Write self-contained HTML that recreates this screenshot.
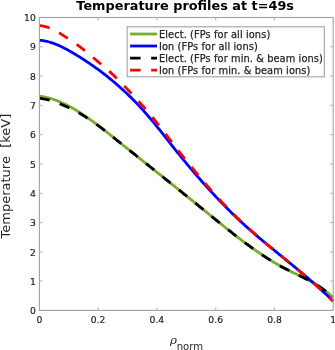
<!DOCTYPE html>
<html><head><meta charset="utf-8"><title>Temperature profiles</title>
<style>
html,body{margin:0;padding:0;background:#fff;}
body{width:335px;height:350px;overflow:hidden;}
svg{display:block;font-family:"DejaVu Sans","Liberation Sans",sans-serif;}
</style></head><body>
<svg width="335" height="350" viewBox="0 0 335 350">
<rect width="335" height="350" fill="#fff"/>
<g fill="none" stroke-width="2.8" stroke-linejoin="round">
<path d="M39.40,96.23 L40.38,96.35 L41.37,96.48 L42.35,96.63 L43.33,96.79 L44.31,96.98 L45.30,97.17 L46.28,97.39 L47.26,97.62 L48.24,97.86 L49.23,98.12 L50.21,98.40 L51.19,98.69 L52.17,98.99 L53.16,99.31 L54.14,99.64 L55.12,99.98 L56.10,100.34 L57.09,100.72 L58.07,101.10 L59.05,101.50 L60.03,101.91 L61.02,102.33 L62.00,102.77 L62.98,103.22 L63.97,103.68 L64.95,104.15 L65.93,104.63 L66.91,105.13 L67.90,105.63 L68.88,106.15 L69.86,106.68 L70.84,107.21 L71.83,107.76 L72.81,108.32 L73.79,108.89 L74.77,109.46 L75.76,110.05 L76.74,110.64 L77.72,111.25 L78.70,111.86 L79.69,112.48 L80.67,113.11 L81.65,113.75 L82.63,114.40 L83.62,115.05 L84.60,115.71 L85.58,116.38 L86.57,117.05 L87.55,117.73 L88.53,118.42 L89.51,119.12 L90.50,119.82 L91.48,120.52 L92.46,121.24 L93.44,121.95 L94.43,122.68 L95.41,123.41 L96.39,124.14 L97.37,124.88 L98.36,125.62 L99.34,126.37 L100.32,127.12 L101.30,127.87 L102.29,128.63 L103.27,129.39 L104.25,130.16 L105.23,130.92 L106.22,131.70 L107.20,132.47 L108.18,133.24 L109.17,134.02 L110.15,134.80 L111.13,135.58 L112.11,136.36 L113.10,137.15 L114.08,137.93 L115.06,138.72 L116.04,139.51 L117.03,140.29 L118.01,141.08 L118.99,141.87 L119.97,142.65 L120.96,143.44 L121.94,144.23 L122.92,145.02 L123.90,145.80 L124.89,146.59 L125.87,147.37 L126.85,148.16 L127.83,148.95 L128.82,149.73 L129.80,150.52 L130.78,151.30 L131.77,152.09 L132.75,152.88 L133.73,153.66 L134.71,154.45 L135.70,155.23 L136.68,156.02 L137.66,156.80 L138.64,157.59 L139.63,158.37 L140.61,159.16 L141.59,159.94 L142.57,160.73 L143.56,161.51 L144.54,162.30 L145.52,163.08 L146.50,163.87 L147.49,164.65 L148.47,165.44 L149.45,166.23 L150.43,167.01 L151.42,167.80 L152.40,168.58 L153.38,169.37 L154.37,170.15 L155.35,170.94 L156.33,171.73 L157.31,172.51 L158.30,173.30 L159.28,174.09 L160.26,174.87 L161.24,175.66 L162.23,176.45 L163.21,177.23 L164.19,178.02 L165.17,178.81 L166.16,179.59 L167.14,180.38 L168.12,181.17 L169.10,181.96 L170.09,182.75 L171.07,183.54 L172.05,184.32 L173.03,185.11 L174.02,185.90 L175.00,186.69 L175.98,187.48 L176.97,188.27 L177.95,189.06 L178.93,189.85 L179.91,190.64 L180.90,191.44 L181.88,192.23 L182.86,193.02 L183.84,193.81 L184.83,194.60 L185.81,195.40 L186.79,196.19 L187.77,196.98 L188.76,197.78 L189.74,198.57 L190.72,199.37 L191.70,200.16 L192.69,200.96 L193.67,201.75 L194.65,202.55 L195.63,203.35 L196.62,204.14 L197.60,204.94 L198.58,205.74 L199.57,206.54 L200.55,207.34 L201.53,208.14 L202.51,208.94 L203.50,209.74 L204.48,210.54 L205.46,211.34 L206.44,212.14 L207.43,212.94 L208.41,213.74 L209.39,214.54 L210.37,215.34 L211.36,216.14 L212.34,216.95 L213.32,217.75 L214.30,218.54 L215.29,219.34 L216.27,220.14 L217.25,220.94 L218.23,221.74 L219.22,222.53 L220.20,223.33 L221.18,224.12 L222.17,224.91 L223.15,225.70 L224.13,226.49 L225.11,227.28 L226.10,228.06 L227.08,228.85 L228.06,229.63 L229.04,230.41 L230.03,231.19 L231.01,231.96 L231.99,232.74 L232.97,233.51 L233.96,234.28 L234.94,235.04 L235.92,235.81 L236.90,236.57 L237.89,237.33 L238.87,238.08 L239.85,238.83 L240.83,239.58 L241.82,240.33 L242.80,241.07 L243.78,241.81 L244.77,242.55 L245.75,243.28 L246.73,244.01 L247.71,244.73 L248.70,245.45 L249.68,246.17 L250.66,246.88 L251.64,247.59 L252.63,248.30 L253.61,249.00 L254.59,249.69 L255.57,250.38 L256.56,251.07 L257.54,251.75 L258.52,252.43 L259.50,253.10 L260.49,253.77 L261.47,254.43 L262.45,255.09 L263.43,255.74 L264.42,256.38 L265.40,257.02 L266.38,257.66 L267.37,258.29 L268.35,258.91 L269.33,259.53 L270.31,260.14 L271.30,260.75 L272.28,261.35 L273.26,261.94 L274.24,262.53 L275.23,263.11 L276.21,263.68 L277.19,264.25 L278.17,264.81 L279.16,265.37 L280.14,265.91 L281.12,266.45 L282.10,266.99 L283.09,267.51 L284.07,268.03 L285.05,268.54 L286.03,269.05 L287.02,269.55 L288.00,270.04 L288.98,270.53 L289.97,271.01 L290.95,271.49 L291.93,271.97 L292.91,272.44 L293.90,272.92 L294.88,273.39 L295.86,273.86 L296.84,274.33 L297.83,274.81 L298.81,275.28 L299.79,275.76 L300.77,276.23 L301.76,276.72 L302.74,277.20 L303.72,277.69 L304.70,278.19 L305.69,278.69 L306.67,279.20 L307.65,279.71 L308.63,280.23 L309.62,280.76 L310.60,281.30 L311.58,281.85 L312.57,282.41 L313.55,282.98 L314.53,283.56 L315.51,284.15 L316.50,284.76 L317.48,285.37 L318.46,286.01 L319.44,286.65 L320.43,287.31 L321.41,287.99 L322.39,288.68 L323.37,289.39 L324.36,290.12 L325.34,290.87 L326.32,291.63 L327.30,292.42 L328.29,293.22 L329.27,294.05 L330.25,294.89 L331.23,295.76 L332.22,296.65 L333.20,297.56" stroke="#77ac30"/>
<path d="M39.40,40.20 L40.38,40.28 L41.37,40.39 L42.35,40.52 L43.33,40.67 L44.31,40.84 L45.30,41.04 L46.28,41.25 L47.26,41.48 L48.24,41.74 L49.23,42.01 L50.21,42.30 L51.19,42.61 L52.17,42.93 L53.16,43.27 L54.14,43.63 L55.12,44.01 L56.10,44.40 L57.09,44.80 L58.07,45.22 L59.05,45.65 L60.03,46.10 L61.02,46.56 L62.00,47.03 L62.98,47.51 L63.97,48.00 L64.95,48.51 L65.93,49.02 L66.91,49.55 L67.90,50.08 L68.88,50.62 L69.86,51.18 L70.84,51.73 L71.83,52.30 L72.81,52.87 L73.79,53.45 L74.77,54.04 L75.76,54.63 L76.74,55.22 L77.72,55.82 L78.70,56.43 L79.69,57.04 L80.67,57.66 L81.65,58.28 L82.63,58.91 L83.62,59.54 L84.60,60.18 L85.58,60.82 L86.57,61.47 L87.55,62.12 L88.53,62.78 L89.51,63.45 L90.50,64.12 L91.48,64.80 L92.46,65.48 L93.44,66.17 L94.43,66.86 L95.41,67.56 L96.39,68.27 L97.37,68.99 L98.36,69.70 L99.34,70.43 L100.32,71.16 L101.30,71.90 L102.29,72.65 L103.27,73.40 L104.25,74.15 L105.23,74.92 L106.22,75.69 L107.20,76.47 L108.18,77.25 L109.17,78.04 L110.15,78.84 L111.13,79.64 L112.11,80.46 L113.10,81.28 L114.08,82.10 L115.06,82.93 L116.04,83.77 L117.03,84.62 L118.01,85.48 L118.99,86.34 L119.97,87.21 L120.96,88.09 L121.94,88.98 L122.92,89.87 L123.90,90.77 L124.89,91.68 L125.87,92.60 L126.85,93.53 L127.83,94.47 L128.82,95.42 L129.80,96.37 L130.78,97.34 L131.77,98.31 L132.75,99.29 L133.73,100.28 L134.71,101.28 L135.70,102.30 L136.68,103.32 L137.66,104.35 L138.64,105.39 L139.63,106.44 L140.61,107.50 L141.59,108.57 L142.57,109.65 L143.56,110.75 L144.54,111.85 L145.52,112.96 L146.50,114.09 L147.49,115.22 L148.47,116.37 L149.45,117.52 L150.43,118.68 L151.42,119.85 L152.40,121.03 L153.38,122.22 L154.37,123.41 L155.35,124.61 L156.33,125.82 L157.31,127.03 L158.30,128.25 L159.28,129.47 L160.26,130.70 L161.24,131.93 L162.23,133.16 L163.21,134.40 L164.19,135.64 L165.17,136.88 L166.16,138.12 L167.14,139.37 L168.12,140.61 L169.10,141.86 L170.09,143.10 L171.07,144.35 L172.05,145.59 L173.03,146.83 L174.02,148.07 L175.00,149.31 L175.98,150.55 L176.97,151.78 L177.95,153.01 L178.93,154.23 L179.91,155.45 L180.90,156.67 L181.88,157.88 L182.86,159.08 L183.84,160.28 L184.83,161.48 L185.81,162.67 L186.79,163.85 L187.77,165.03 L188.76,166.20 L189.74,167.37 L190.72,168.53 L191.70,169.69 L192.69,170.84 L193.67,171.99 L194.65,173.13 L195.63,174.27 L196.62,175.40 L197.60,176.53 L198.58,177.65 L199.57,178.77 L200.55,179.89 L201.53,181.00 L202.51,182.10 L203.50,183.20 L204.48,184.30 L205.46,185.39 L206.44,186.48 L207.43,187.56 L208.41,188.64 L209.39,189.71 L210.37,190.78 L211.36,191.84 L212.34,192.90 L213.32,193.96 L214.30,195.01 L215.29,196.06 L216.27,197.10 L217.25,198.14 L218.23,199.18 L219.22,200.21 L220.20,201.23 L221.18,202.26 L222.17,203.27 L223.15,204.29 L224.13,205.29 L225.11,206.30 L226.10,207.29 L227.08,208.29 L228.06,209.27 L229.04,210.26 L230.03,211.23 L231.01,212.21 L231.99,213.17 L232.97,214.13 L233.96,215.09 L234.94,216.04 L235.92,216.98 L236.90,217.92 L237.89,218.86 L238.87,219.78 L239.85,220.70 L240.83,221.62 L241.82,222.53 L242.80,223.43 L243.78,224.33 L244.77,225.22 L245.75,226.11 L246.73,227.00 L247.71,227.87 L248.70,228.75 L249.68,229.62 L250.66,230.48 L251.64,231.34 L252.63,232.20 L253.61,233.05 L254.59,233.90 L255.57,234.75 L256.56,235.59 L257.54,236.43 L258.52,237.26 L259.50,238.09 L260.49,238.92 L261.47,239.75 L262.45,240.57 L263.43,241.39 L264.42,242.21 L265.40,243.03 L266.38,243.84 L267.37,244.65 L268.35,245.46 L269.33,246.27 L270.31,247.08 L271.30,247.88 L272.28,248.69 L273.26,249.49 L274.24,250.29 L275.23,251.09 L276.21,251.89 L277.19,252.69 L278.17,253.49 L279.16,254.29 L280.14,255.09 L281.12,255.89 L282.10,256.69 L283.09,257.49 L284.07,258.29 L285.05,259.09 L286.03,259.89 L287.02,260.69 L288.00,261.50 L288.98,262.30 L289.97,263.11 L290.95,263.91 L291.93,264.72 L292.91,265.53 L293.90,266.34 L294.88,267.15 L295.86,267.96 L296.84,268.78 L297.83,269.60 L298.81,270.42 L299.79,271.24 L300.77,272.06 L301.76,272.89 L302.74,273.72 L303.72,274.55 L304.70,275.38 L305.69,276.22 L306.67,277.05 L307.65,277.90 L308.63,278.74 L309.62,279.59 L310.60,280.44 L311.58,281.30 L312.57,282.15 L313.55,283.02 L314.53,283.88 L315.51,284.75 L316.50,285.62 L317.48,286.50 L318.46,287.38 L319.44,288.26 L320.43,289.15 L321.41,290.05 L322.39,290.94 L323.37,291.85 L324.36,292.75 L325.34,293.67 L326.32,294.58 L327.30,295.50 L328.29,296.43 L329.27,297.36 L330.25,298.30 L331.23,299.24 L332.22,300.19 L333.20,301.15" stroke="#0000ff"/>
<path d="M39.40,98.33 L40.38,98.43 L41.37,98.55 L42.35,98.68 L43.33,98.84 L44.31,99.01 L45.30,99.19 L46.28,99.40 L47.26,99.62 L48.24,99.86 L49.23,100.12 L50.21,100.40 L51.19,100.69 L52.17,100.99 L53.16,101.31 L54.14,101.64 L55.12,101.98 L56.10,102.34 L57.09,102.72 L58.07,103.10 L59.05,103.50 L60.03,103.90 L61.02,104.31 L62.00,104.72 L62.98,105.13 L63.97,105.55 L64.95,105.97 L65.93,106.40 L66.91,106.84 L67.90,107.29 L68.88,107.75 L69.86,108.23 L70.84,108.71 L71.83,109.21 L72.81,109.70 L73.79,110.20 L74.77,110.71 L75.76,111.23 L76.74,111.75 L77.72,112.28 L78.70,112.82 L79.69,113.37 L80.67,113.94 L81.65,114.51 L82.63,115.10 L83.62,115.71 L84.60,116.32 L85.58,116.94 L86.57,117.57 L87.55,118.20 L88.53,118.84 L89.51,119.50 L90.50,120.16 L91.48,120.83 L92.46,121.51 L93.44,122.19 L94.43,122.89 L95.41,123.59 L96.39,124.30 L97.37,125.01 L98.36,125.73 L99.34,126.46 L100.32,127.18 L101.30,127.92 L102.29,128.66 L103.27,129.41 L104.25,130.16 L105.23,130.93 L106.22,131.70 L107.20,132.47 L108.18,133.24 L109.17,134.02 L110.15,134.80 L111.13,135.58 L112.11,136.36 L113.10,137.15 L114.08,137.93 L115.06,138.72 L116.04,139.51 L117.03,140.29 L118.01,141.08 L118.99,141.87 L119.97,142.65 L120.96,143.44 L121.94,144.23 L122.92,145.02 L123.90,145.80 L124.89,146.59 L125.87,147.37 L126.85,148.16 L127.83,148.95 L128.82,149.73 L129.80,150.52 L130.78,151.30 L131.77,152.09 L132.75,152.88 L133.73,153.66 L134.71,154.45 L135.70,155.23 L136.68,156.02 L137.66,156.80 L138.64,157.59 L139.63,158.37 L140.61,159.16 L141.59,159.94 L142.57,160.73 L143.56,161.51 L144.54,162.30 L145.52,163.08 L146.50,163.87 L147.49,164.65 L148.47,165.44 L149.45,166.23 L150.43,167.01 L151.42,167.80 L152.40,168.58 L153.38,169.37 L154.37,170.15 L155.35,170.94 L156.33,171.73 L157.31,172.51 L158.30,173.30 L159.28,174.09 L160.26,174.87 L161.24,175.66 L162.23,176.45 L163.21,177.23 L164.19,178.02 L165.17,178.81 L166.16,179.59 L167.14,180.38 L168.12,181.17 L169.10,181.96 L170.09,182.75 L171.07,183.54 L172.05,184.32 L173.03,185.11 L174.02,185.90 L175.00,186.69 L175.98,187.48 L176.97,188.27 L177.95,189.06 L178.93,189.85 L179.91,190.64 L180.90,191.44 L181.88,192.23 L182.86,193.02 L183.84,193.81 L184.83,194.60 L185.81,195.40 L186.79,196.19 L187.77,196.98 L188.76,197.78 L189.74,198.57 L190.72,199.37 L191.70,200.16 L192.69,200.96 L193.67,201.75 L194.65,202.55 L195.63,203.35 L196.62,204.14 L197.60,204.94 L198.58,205.74 L199.57,206.54 L200.55,207.34 L201.53,208.14 L202.51,208.94 L203.50,209.74 L204.48,210.54 L205.46,211.34 L206.44,212.14 L207.43,212.94 L208.41,213.74 L209.39,214.54 L210.37,215.34 L211.36,216.14 L212.34,216.95 L213.32,217.75 L214.30,218.54 L215.29,219.34 L216.27,220.14 L217.25,220.94 L218.23,221.74 L219.22,222.53 L220.20,223.33 L221.18,224.12 L222.17,224.91 L223.15,225.70 L224.13,226.49 L225.11,227.28 L226.10,228.06 L227.08,228.85 L228.06,229.63 L229.04,230.41 L230.03,231.19 L231.01,231.96 L231.99,232.74 L232.97,233.51 L233.96,234.28 L234.94,235.04 L235.92,235.81 L236.90,236.57 L237.89,237.33 L238.87,238.08 L239.85,238.83 L240.83,239.58 L241.82,240.33 L242.80,241.07 L243.78,241.81 L244.77,242.55 L245.75,243.28 L246.73,244.01 L247.71,244.73 L248.70,245.45 L249.68,246.17 L250.66,246.88 L251.64,247.59 L252.63,248.30 L253.61,249.00 L254.59,249.69 L255.57,250.38 L256.56,251.07 L257.54,251.75 L258.52,252.43 L259.50,253.10 L260.49,253.77 L261.47,254.43 L262.45,255.09 L263.43,255.74 L264.42,256.38 L265.40,257.02 L266.38,257.66 L267.37,258.29 L268.35,258.91 L269.33,259.53 L270.31,260.14 L271.30,260.75 L272.28,261.35 L273.26,261.94 L274.24,262.53 L275.23,263.11 L276.21,263.68 L277.19,264.25 L278.17,264.81 L279.16,265.37 L280.14,265.91 L281.12,266.45 L282.10,266.99 L283.09,267.51 L284.07,268.03 L285.05,268.54 L286.03,269.05 L287.02,269.55 L288.00,270.04 L288.98,270.53 L289.97,271.01 L290.95,271.49 L291.93,271.97 L292.91,272.44 L293.90,272.92 L294.88,273.39 L295.86,273.86 L296.84,274.33 L297.83,274.81 L298.81,275.28 L299.79,275.76 L300.77,276.23 L301.76,276.72 L302.74,277.20 L303.72,277.69 L304.70,278.19 L305.69,278.69 L306.67,279.20 L307.65,279.71 L308.63,280.23 L309.62,280.76 L310.60,281.30 L311.58,281.85 L312.57,282.41 L313.55,282.98 L314.53,283.56 L315.51,284.15 L316.50,284.76 L317.48,285.37 L318.46,286.01 L319.44,286.65 L320.43,287.31 L321.41,287.99 L322.39,288.68 L323.37,289.39 L324.36,290.12 L325.34,290.87 L326.32,291.63 L327.30,292.42 L328.29,293.22 L329.27,294.05 L330.25,294.89 L331.23,295.76 L332.22,296.65 L333.20,297.56" stroke="#000" stroke-dasharray="10.5 10.58"/>
<path d="M39.40,25.60 L40.38,25.69 L41.37,25.81 L42.35,25.97 L43.33,26.15 L44.31,26.37 L45.30,26.61 L46.28,26.87 L47.26,27.16 L48.24,27.47 L49.23,27.80 L50.21,28.16 L51.19,28.56 L52.17,29.00 L53.16,29.46 L54.14,29.96 L55.12,30.48 L56.10,31.02 L57.09,31.59 L58.07,32.17 L59.05,32.76 L60.03,33.37 L61.02,33.98 L62.00,34.60 L62.98,35.22 L63.97,35.84 L64.95,36.46 L65.93,37.08 L66.91,37.71 L67.90,38.35 L68.88,39.00 L69.86,39.65 L70.84,40.31 L71.83,40.97 L72.81,41.64 L73.79,42.32 L74.77,43.01 L75.76,43.70 L76.74,44.40 L77.72,45.11 L78.70,45.83 L79.69,46.55 L80.67,47.29 L81.65,48.04 L82.63,48.81 L83.62,49.59 L84.60,50.38 L85.58,51.18 L86.57,51.99 L87.55,52.81 L88.53,53.63 L89.51,54.46 L90.50,55.29 L91.48,56.12 L92.46,56.96 L93.44,57.80 L94.43,58.63 L95.41,59.46 L96.39,60.29 L97.37,61.11 L98.36,61.94 L99.34,62.76 L100.32,63.58 L101.30,64.40 L102.29,65.23 L103.27,66.06 L104.25,66.90 L105.23,67.74 L106.22,68.59 L107.20,69.45 L108.18,70.32 L109.17,71.20 L110.15,72.09 L111.13,73.00 L112.11,73.92 L113.10,74.85 L114.08,75.79 L115.06,76.75 L116.04,77.71 L117.03,78.68 L118.01,79.65 L118.99,80.64 L119.97,81.63 L120.96,82.62 L121.94,83.62 L122.92,84.62 L123.90,85.62 L124.89,86.63 L125.87,87.64 L126.85,88.64 L127.83,89.66 L128.82,90.68 L129.80,91.70 L130.78,92.74 L131.77,93.78 L132.75,94.83 L133.73,95.88 L134.71,96.95 L135.70,98.02 L136.68,99.09 L137.66,100.17 L138.64,101.26 L139.63,102.36 L140.61,103.46 L141.59,104.56 L142.57,105.68 L143.56,106.80 L144.54,107.93 L145.52,109.06 L146.50,110.21 L147.49,111.36 L148.47,112.53 L149.45,113.70 L150.43,114.88 L151.42,116.07 L152.40,117.27 L153.38,118.48 L154.37,119.70 L155.35,120.92 L156.33,122.15 L157.31,123.39 L158.30,124.64 L159.28,125.89 L160.26,127.15 L161.24,128.41 L162.23,129.68 L163.21,130.94 L164.19,132.22 L165.17,133.49 L166.16,134.76 L167.14,136.04 L168.12,137.31 L169.10,138.59 L170.09,139.86 L171.07,141.14 L172.05,142.41 L173.03,143.68 L174.02,144.95 L175.00,146.22 L175.98,147.48 L176.97,148.75 L177.95,150.00 L178.93,151.26 L179.91,152.52 L180.90,153.77 L181.88,155.01 L182.86,156.26 L183.84,157.50 L184.83,158.73 L185.81,159.97 L186.79,161.19 L187.77,162.42 L188.76,163.64 L189.74,164.86 L190.72,166.07 L191.70,167.27 L192.69,168.48 L193.67,169.67 L194.65,170.87 L195.63,172.06 L196.62,173.25 L197.60,174.43 L198.58,175.61 L199.57,176.79 L200.55,177.96 L201.53,179.12 L202.51,180.28 L203.50,181.43 L204.48,182.57 L205.46,183.72 L206.44,184.85 L207.43,185.99 L208.41,187.12 L209.39,188.24 L210.37,189.36 L211.36,190.47 L212.34,191.58 L213.32,192.68 L214.30,193.78 L215.29,194.87 L216.27,195.96 L217.25,197.05 L218.23,198.13 L219.22,199.20 L220.20,200.27 L221.18,201.34 L222.17,202.39 L223.15,203.45 L224.13,204.49 L225.11,205.53 L226.10,206.56 L227.08,207.59 L228.06,208.61 L229.04,209.62 L230.03,210.62 L231.01,211.62 L231.99,212.61 L232.97,213.60 L233.96,214.58 L234.94,215.55 L235.92,216.52 L236.90,217.48 L237.89,218.43 L238.87,219.38 L239.85,220.32 L240.83,221.25 L241.82,222.18 L242.80,223.11 L243.78,224.02 L244.77,224.93 L245.75,225.84 L246.73,226.74 L247.71,227.63 L248.70,228.52 L249.68,229.40 L250.66,230.28 L251.64,231.15 L252.63,232.02 L253.61,232.88 L254.59,233.74 L255.57,234.59 L256.56,235.44 L257.54,236.28 L258.52,237.13 L259.50,237.97 L260.49,238.80 L261.47,239.64 L262.45,240.47 L263.43,241.30 L264.42,242.12 L265.40,242.95 L266.38,243.77 L267.37,244.60 L268.35,245.42 L269.33,246.24 L270.31,247.05 L271.30,247.87 L272.28,248.68 L273.26,249.49 L274.24,250.29 L275.23,251.09 L276.21,251.89 L277.19,252.69 L278.17,253.49 L279.16,254.29 L280.14,255.09 L281.12,255.89 L282.10,256.69 L283.09,257.49 L284.07,258.29 L285.05,259.09 L286.03,259.89 L287.02,260.69 L288.00,261.50 L288.98,262.30 L289.97,263.11 L290.95,263.91 L291.93,264.72 L292.91,265.53 L293.90,266.34 L294.88,267.15 L295.86,267.96 L296.84,268.78 L297.83,269.60 L298.81,270.42 L299.79,271.24 L300.77,272.06 L301.76,272.89 L302.74,273.72 L303.72,274.55 L304.70,275.38 L305.69,276.22 L306.67,277.05 L307.65,277.90 L308.63,278.74 L309.62,279.59 L310.60,280.44 L311.58,281.30 L312.57,282.15 L313.55,283.02 L314.53,283.88 L315.51,284.75 L316.50,285.62 L317.48,286.50 L318.46,287.38 L319.44,288.26 L320.43,289.15 L321.41,290.05 L322.39,290.94 L323.37,291.85 L324.36,292.75 L325.34,293.67 L326.32,294.58 L327.30,295.50 L328.29,296.43 L329.27,297.36 L330.25,298.30 L331.23,299.24 L332.22,300.19 L333.20,301.15" stroke="#ff0000" stroke-dasharray="10.5 10.58"/>
</g>
<g stroke="#a0a0a0" stroke-width="1.1" fill="none">
<rect x="39.4" y="17.5" width="293.80" height="292.90"/>
<g stroke-width="1.2" stroke="#b8b8b8"><line x1="98.16" y1="310.4" x2="98.16" y2="307.4"/><line x1="98.16" y1="17.5" x2="98.16" y2="20.5"/><line x1="156.92" y1="310.4" x2="156.92" y2="307.4"/><line x1="156.92" y1="17.5" x2="156.92" y2="20.5"/><line x1="215.68" y1="310.4" x2="215.68" y2="307.4"/><line x1="215.68" y1="17.5" x2="215.68" y2="20.5"/><line x1="274.44" y1="310.4" x2="274.44" y2="307.4"/><line x1="274.44" y1="17.5" x2="274.44" y2="20.5"/><line x1="39.4" y1="281.11" x2="42.4" y2="281.11"/><line x1="333.2" y1="281.11" x2="330.2" y2="281.11"/><line x1="39.4" y1="251.82" x2="42.4" y2="251.82"/><line x1="333.2" y1="251.82" x2="330.2" y2="251.82"/><line x1="39.4" y1="222.53" x2="42.4" y2="222.53"/><line x1="333.2" y1="222.53" x2="330.2" y2="222.53"/><line x1="39.4" y1="193.24" x2="42.4" y2="193.24"/><line x1="333.2" y1="193.24" x2="330.2" y2="193.24"/><line x1="39.4" y1="163.95" x2="42.4" y2="163.95"/><line x1="333.2" y1="163.95" x2="330.2" y2="163.95"/><line x1="39.4" y1="134.66" x2="42.4" y2="134.66"/><line x1="333.2" y1="134.66" x2="330.2" y2="134.66"/><line x1="39.4" y1="105.37" x2="42.4" y2="105.37"/><line x1="333.2" y1="105.37" x2="330.2" y2="105.37"/><line x1="39.4" y1="76.08" x2="42.4" y2="76.08"/><line x1="333.2" y1="76.08" x2="330.2" y2="76.08"/><line x1="39.4" y1="46.79" x2="42.4" y2="46.79"/><line x1="333.2" y1="46.79" x2="330.2" y2="46.79"/></g>
</g>
<g font-size="9.2px" fill="#262626" stroke="#262626" stroke-width="0.2"><text x="39.40" y="323.1" text-anchor="middle">0</text><text x="98.16" y="323.1" text-anchor="middle">0.2</text><text x="156.92" y="323.1" text-anchor="middle">0.4</text><text x="215.68" y="323.1" text-anchor="middle">0.6</text><text x="274.44" y="323.1" text-anchor="middle">0.8</text><text x="333.20" y="323.1" text-anchor="middle">1</text><text x="35.8" y="314.10" text-anchor="end">0</text><text x="35.8" y="284.81" text-anchor="end">1</text><text x="35.8" y="255.52" text-anchor="end">2</text><text x="35.8" y="226.23" text-anchor="end">3</text><text x="35.8" y="196.94" text-anchor="end">4</text><text x="35.8" y="167.65" text-anchor="end">5</text><text x="35.8" y="138.36" text-anchor="end">6</text><text x="35.8" y="109.07" text-anchor="end">7</text><text x="35.8" y="79.78" text-anchor="end">8</text><text x="35.8" y="50.49" text-anchor="end">9</text><text x="35.8" y="21.20" text-anchor="end">10</text></g>
<rect x="127.1" y="26.8" width="197.2" height="50.0" fill="#fff" stroke="#a0a0a0" stroke-width="1.1"/>
<g font-size="9.8px" letter-spacing="0.1px" fill="#262626" stroke="#262626" stroke-width="0.25"><line x1="130.1" y1="34.0" x2="157" y2="34.0" stroke="#77ac30" stroke-width="2.8"/><text x="159.0" y="38.0">Elect. (FPs for all ions)</text><line x1="130.1" y1="46.0" x2="157" y2="46.0" stroke="#0000ff" stroke-width="2.8"/><text x="159.0" y="50.0">Ion (FPs for all ions)</text><line x1="130.1" y1="58.15" x2="157" y2="58.15" stroke="#000000" stroke-width="2.8" stroke-dasharray="10.5 10.58"/><text x="159.0" y="62.1">Elect. (FPs for min. &amp; beam ions)</text><line x1="130.1" y1="70.2" x2="157" y2="70.2" stroke="#ff0000" stroke-width="2.8" stroke-dasharray="10.5 10.58"/><text x="159.0" y="74.2">Ion (FPs for min. &amp; beam ions)</text></g>
<text x="185.2" y="9.8" text-anchor="middle" font-size="12.85px" font-weight="bold" fill="#000">Temperature profiles at t=49s</text>
<text transform="translate(10.4,176.1) rotate(-90)" text-anchor="middle" font-size="13px" fill="#262626" xml:space="preserve" style="white-space:pre">Temperature  [keV]</text>
<text x="170" y="344.4" font-size="11.8px" fill="#262626"><tspan font-family="'DejaVu Serif','Liberation Serif',serif" font-style="italic">ρ</tspan><tspan x="176.7" y="349.9" font-size="10.1px">norm</tspan></text>
</svg>
</body></html>
